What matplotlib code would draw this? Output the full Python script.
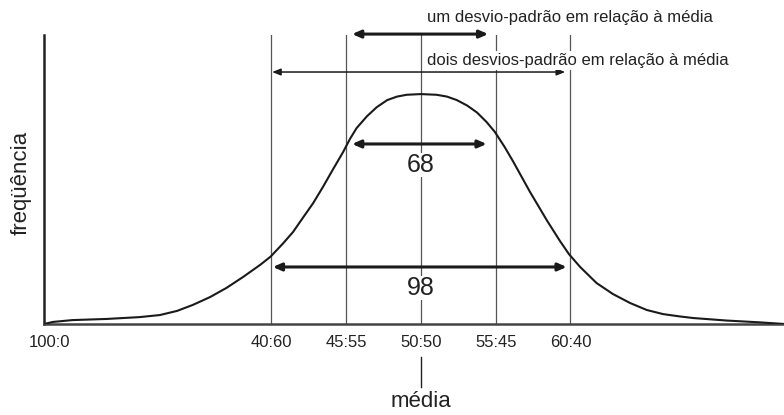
import numpy as np
import matplotlib.pyplot as plt

plt.rcParams['font.family'] = ['Liberation Sans', 'DejaVu Sans']

# curva: eixo x em desvios-padrão a partir da média, y = frequência relativa
curva_x = [-5.04, -4.92, -4.66, -4.20, -3.76, -3.49, -3.26, -3.05, -2.82, -2.60,
           -2.38, -2.15, -2.01, -1.85, -1.71, -1.58, -1.44, -1.31, -1.18, -1.04,
           -0.95, -0.86, -0.72, -0.59, -0.45, -0.32, -0.19, 0.00, 0.21, 0.35,
           0.48, 0.62, 0.75, 0.88, 0.99, 1.12, 1.23, 1.46, 1.69, 1.86,
           1.98, 2.13, 2.35, 2.57, 2.80, 3.02, 3.24, 3.46, 3.64, 4.09,
           4.54, 4.86]
curva_y = [0.0, 0.009, 0.017, 0.022, 0.030, 0.039, 0.057, 0.083, 0.117, 0.157,
           0.204, 0.257, 0.293, 0.348, 0.400, 0.461, 0.526, 0.596, 0.670, 0.748,
           0.804, 0.852, 0.904, 0.943, 0.974, 0.989, 0.997, 1.000, 0.997, 0.989,
           0.974, 0.950, 0.920, 0.878, 0.835, 0.770, 0.709, 0.574, 0.448, 0.361,
           0.304, 0.248, 0.178, 0.130, 0.091, 0.061, 0.043, 0.033, 0.026, 0.015,
           0.007, 0.0]

# posições das linhas verticais e rótulos
linhas_x = [-2, -1, 0, 1, 2]
ticks_x = [-4.97, -2, -1, 0, 1, 2]
ticks_rotulos = ['100:0', '40:60', '45:55', '50:50', '55:45', '60:40']

# percentuais dentro de 1 e 2 desvios-padrão
percentuais = ['68', '98']

topo = 1.257

fig = plt.figure(figsize=(7.84, 4.15), dpi=100)
ax = fig.add_axes([44 / 784, 91 / 415, 740 / 784, 289 / 415])
ax.set_xlim(-5.04, 4.856)
ax.set_ylim(0, topo)

# linhas verticais
for x in linhas_x:
    ax.plot([x, x], [0, topo], color='#555555', lw=0.9, zorder=1)

# curva
ax.plot(curva_x, curva_y, color='#1a1a1a', lw=1.5, zorder=3,
        solid_joinstyle='round')

# setas
def seta(x0, x1, y, lw, hl, hw):
    ax.annotate('', xy=(x1, y), xytext=(x0, y),
                arrowprops=dict(arrowstyle='<|-|>,head_length=%s,head_width=%s' % (hl, hw),
                                color='#1a1a1a', lw=lw, shrinkA=0, shrinkB=0),
                annotation_clip=False, zorder=4)

seta(-0.92, 0.90, 1.261, 2.2, 0.5, 0.22)
seta(-1.99, 1.93, 1.096, 1.1, 0.5, 0.2)
seta(-0.92, 0.88, 0.783, 2.2, 0.5, 0.22)
seta(-1.98, 1.95, 0.248, 2.2, 0.5, 0.22)

# textos
ax.text(0.087, 1.335, 'um desvio-padrão em relação à média', fontsize=12,
        ha='left', va='center', color='#222222', clip_on=False)
ax.text(0.087, 1.148, 'dois desvios-padrão em relação à média', fontsize=12,
        ha='left', va='center', color='#222222', zorder=5,
        bbox=dict(facecolor='white', edgecolor='none', pad=1.5))
ax.text(0, 0.691, percentuais[0], fontsize=18, ha='center', va='center',
        color='#222222', zorder=5, bbox=dict(facecolor='white', edgecolor='none', pad=0))
ax.text(0, 0.157, percentuais[1], fontsize=18, ha='center', va='center',
        color='#222222', zorder=5, bbox=dict(facecolor='white', edgecolor='none', pad=0))

# eixos
for s in ['top', 'right']:
    ax.spines[s].set_visible(False)
ax.spines['left'].set_color('#222222')
ax.spines['left'].set_linewidth(1.8)
ax.spines['bottom'].set_color('#444444')
ax.spines['bottom'].set_linewidth(1.8)
ax.set_yticks([])
ax.set_xticks(ticks_x)
ax.set_xticklabels(ticks_rotulos, fontsize=12, color='#222222')
ax.tick_params(axis='x', length=0, pad=8)

# média
ax.plot([0, 0], [-0.143, -0.274], color='#222222', lw=1, clip_on=False)
ax.text(0, -0.339, 'média', fontsize=16, ha='center', va='center', color='#222222',
        clip_on=False)

# rótulo do eixo y
ax.text(-5.34, 0.613, 'freqüência', fontsize=16, rotation=90, ha='center', va='center',
        color='#222222', clip_on=False)

fig.savefig('out.png', dpi=100)
